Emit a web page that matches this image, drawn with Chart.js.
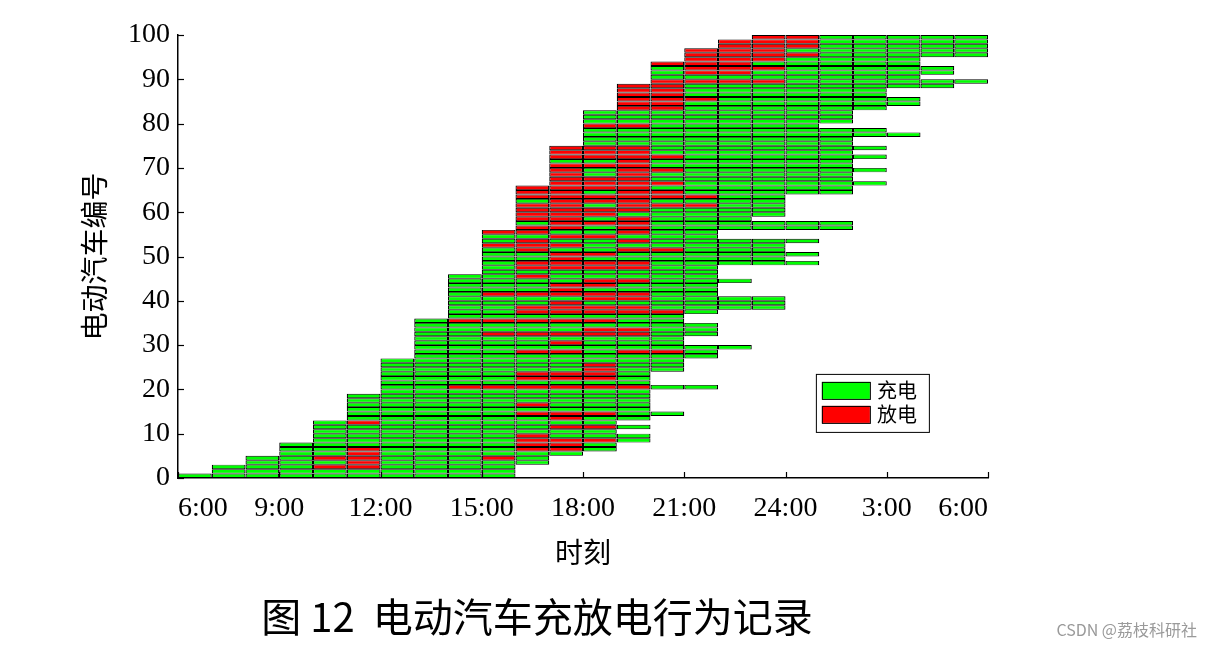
<!DOCTYPE html>
<html>
<head>
<meta charset="utf-8">
<script src="https://cdn.jsdelivr.net/npm/chart.js@4.4.1/dist/chart.umd.min.js"></script>
<style>
  html, body { margin: 0; padding: 0; background: #ffffff; }
  #wrap { width: 1213px; height: 649px; position: relative; }
</style>
</head>
<body>
<div id="wrap"><canvas id="c"></canvas></div>
<script>
// ---- DATA ----
const timeLabels = ['6:00', '9:00', '12:00', '15:00', '18:00', '21:00', '24:00', '3:00', '6:00'];
const seriesNames = ['充电', '放电'];
const vehicleIds = Array.from({ length: 100 }, (_, i) => i + 1);
// hour slot (0 = 6:00) when each vehicle arrives
const arriveSlot = [
  0, 1, 1, 2, 2, 3, 3, 3, 4, 4,
  4, 4, 4, 5, 5, 5, 5, 5, 5, 6,
  6, 6, 6, 6, 6, 6, 6, 7, 7, 7,
  7, 7, 7, 7, 7, 7, 8, 8, 8, 8,
  8, 8, 8, 8, 8, 8, 9, 9, 9, 9,
  9, 9, 9, 9, 9, 9, 10, 10, 10, 10,
  10, 10, 10, 10, 10, 10, 11, 11, 11, 11,
  11, 11, 11, 11, 11, 12, 12, 12, 12, 12,
  12, 12, 12, 13, 13, 13, 13, 13, 13, 14,
  14, 14, 14, 14, 15, 15, 15, 16, 16, 17
];
// hour slot when each vehicle leaves (exclusive)
const departSlot = [
  10, 10, 10, 11, 11, 12, 13, 13, 14, 14,
  13, 14, 13, 14, 15, 14, 14, 14, 14, 14,
  16, 14, 14, 14, 15, 15, 15, 16, 16, 17,
  15, 15, 16, 16, 16, 15, 15, 16, 18, 18,
  18, 16, 16, 16, 17, 16, 16, 16, 19, 18,
  19, 18, 18, 19, 16, 16, 20, 20, 17, 18,
  18, 18, 18, 18, 20, 20, 21, 20, 20, 21,
  20, 20, 21, 20, 21, 20, 20, 22, 21, 19,
  20, 20, 20, 21, 22, 22, 21, 21, 23, 24,
  22, 23, 23, 22, 22, 24, 24, 24, 24, 24
];
// hour slots in which each vehicle discharges
const dischargeSlots = [
  [], [], [4, 5], [5], [4, 5, 9], [5], [5, 10, 11], [10, 11], [10, 11, 12], [10],
  [], [11, 12], [5], [11], [10, 11, 12], [], [10], [], [], [],
  [8, 9, 10, 11, 12, 13], [], [10, 11, 12], [10, 11, 12], [12], [12], [], [], [10, 11, 13, 14], [],
  [11], [], [9, 10, 11, 12, 13], [12, 13], [], [8, 9, 10, 11, 12], [], [10, 11, 12, 13, 14], [10, 11, 12, 13], [11],
  [12, 13], [9, 10, 11, 12, 13], [11], [11, 12], [12, 13], [10], [], [10, 11, 12, 13], [10, 11, 12, 13], [11],
  [11, 12], [10, 13, 14], [9, 10, 11], [10, 13], [11, 12], [9, 10, 13], [10, 11, 13], [11, 12, 13], [10, 11, 13], [10, 11, 12],
  [10, 11, 12, 13], [10, 11, 13, 14, 15], [11, 12, 13], [10, 11, 12, 13, 14, 15], [10, 11, 13, 14], [10, 11, 12, 13], [11, 12, 13, 14], [11, 12, 13], [11, 13], [11, 13, 14],
  [11, 12, 13], [13], [11, 12, 13, 14], [11, 12, 13], [11, 12, 13], [], [], [], [], [12, 13],
  [], [], [], [13, 14], [13, 14], [13, 14, 15], [13, 14], [13, 14], [13, 14], [14, 15, 16, 17],
  [], [15, 16], [15, 16, 17], [14, 15, 16], [15, 16, 17], [15, 16, 17, 18], [15, 16, 17], [16, 17, 18], [16, 17, 18], [17, 18]
];
const yTicks = [0, 10, 20, 30, 40, 50, 60, 70, 80, 90, 100];

// ---- BUILD CELLS ----
const chargeCells = [];
const dischargeCells = [];
vehicleIds.forEach((id, i) => {
  for (let h = arriveSlot[i]; h < departSlot[i]; h++) {
    const cell = { x: [h, h + 1], y: id - 0.5 };
    if (dischargeSlots[i].includes(h)) dischargeCells.push(cell);
    else chargeCells.push(cell);
  }
});

const GREEN = '#00ff00';
const RED = '#ff0000';
const CELL_BORDER = { top: 0.9, bottom: 0.9, left: 1.2, right: 1.2 };

const extrasPlugin = {
  id: 'extras',
  afterDraw(chart) {
    const ctx = chart.ctx;
    const xs = chart.scales.x, ys = chart.scales.y;
    const ca = chart.chartArea;
    ctx.save();
    // inward tick marks
    ctx.strokeStyle = '#000';
    ctx.lineWidth = 1.2;
    ys.ticks.forEach(t => {
      const p = Math.round(ys.getPixelForValue(t.value)) + 0.5;
      ctx.beginPath(); ctx.moveTo(ca.left, p); ctx.lineTo(ca.left + 6, p); ctx.stroke();
    });
    xs.ticks.forEach(t => {
      const p = Math.round(xs.getPixelForValue(t.value)) + 0.5;
      ctx.beginPath(); ctx.moveTo(p, ca.bottom); ctx.lineTo(p, ca.bottom - 6); ctx.stroke();
    });
    // legend box inside plot
    const lx = xs.getPixelForValue(18.9);
    const ly = ys.getPixelForValue(23.5);
    ctx.fillStyle = '#fff';
    ctx.fillRect(lx, ly, 113, 58);
    ctx.lineWidth = 1;
    ctx.strokeRect(lx + 0.5, ly + 0.5, 113, 58);
    const ds = chart.data.datasets;
    ds.forEach((d, k) => {
      const sy = ly + 8 + k * 24;
      ctx.fillStyle = d.backgroundColor;
      ctx.fillRect(lx + 6, sy, 48, 17);
      ctx.strokeStyle = '#000';
      ctx.strokeRect(lx + 6.5, sy + 0.5, 48, 17);
      ctx.fillStyle = '#000';
      ctx.font = '20px "Noto Sans CJK SC"';
      ctx.textBaseline = 'middle';
      ctx.textAlign = 'left';
      ctx.fillText(d.label, lx + 61, sy + 9);
    });
    // caption
    ctx.fillStyle = '#000';
    ctx.font = '40px "Noto Sans CJK SC"';
    ctx.textAlign = 'center';
    ctx.textBaseline = 'middle';
    ctx.fillText('图 12  电动汽车充放电行为记录', 537, 617);
    // watermark
    ctx.fillStyle = '#9a9a9a';
    ctx.font = '16px "Noto Sans CJK SC"';
    ctx.textAlign = 'right';
    ctx.fillText('CSDN @荔枝科研社', 1197, 630);
    ctx.restore();
  }
};

new Chart(document.getElementById('c'), {
  type: 'bar',
  data: {
    datasets: [
      { label: seriesNames[0], data: chargeCells, backgroundColor: GREEN, borderColor: '#000', borderWidth: CELL_BORDER, borderSkipped: false, grouped: false, barPercentage: 1, categoryPercentage: 1, inflateAmount: 0 },
      { label: seriesNames[1], data: dischargeCells, backgroundColor: RED, borderColor: '#000', borderWidth: CELL_BORDER, borderSkipped: false, grouped: false, barPercentage: 1, categoryPercentage: 1, inflateAmount: 0 }
    ]
  },
  options: {
    indexAxis: 'y',
    responsive: true,
    maintainAspectRatio: false,
    animation: false,
    layout: { padding: { left: 0, right: 225, top: 35, bottom: 0 } },
    plugins: { legend: { display: false }, tooltip: { enabled: false } },
    scales: {
      x: {
        type: 'linear', min: 0, max: 24, offset: false,
        grid: { display: false, drawTicks: false },
        border: { display: true, color: '#000', width: 1.5 },
        ticks: {
          stepSize: 3, align: 'inner', padding: 14, color: '#000',
          font: { family: '"Liberation Serif"', size: 28 },
          callback: (v) => timeLabels[v / 3]
        },
        title: { display: true, text: '时刻', color: '#000', font: { family: '"Noto Sans CJK SC"', size: 28 }, padding: { top: 0, bottom: 80 } },
        afterFit: (s) => { s.height = 171; }
      },
      y: {
        type: 'linear', min: 0, max: 100, offset: false,
        grid: { display: false, drawTicks: false },
        border: { display: true, color: '#000', width: 1.5 },
        afterBuildTicks: (s) => { s.ticks = yTicks.map(v => ({ value: v })); },
        ticks: {
          padding: 8, color: '#000',
          font: { family: '"Liberation Serif"', size: 28 }
        },
        title: { display: true, text: '电动汽车编号', color: '#000', font: { family: '"Noto Sans CJK SC"', size: 28 }, padding: { top: 78, bottom: 0 } },
        afterFit: (s) => { s.width = 178; }
      }
    }
  },
  plugins: [extrasPlugin]
});
</script>
</body>
</html>
